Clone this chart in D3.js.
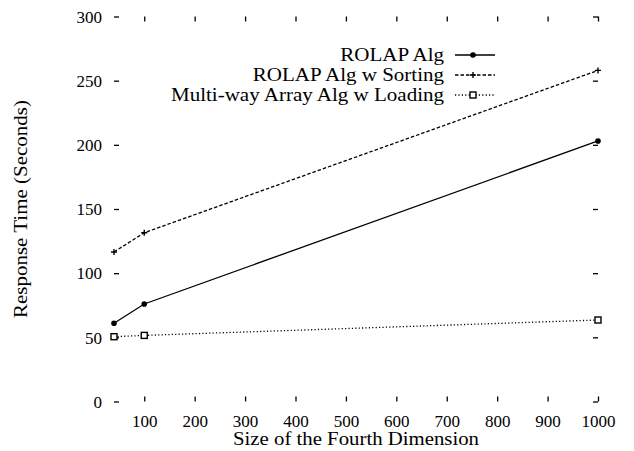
<!DOCTYPE html>
<html>
<head>
<meta charset="utf-8">
<script src="https://cdn.jsdelivr.net/npm/d3@7"></script>
<style>
  html, body { margin: 0; padding: 0; background: #fff; }
  svg { display: block; }
  text { font-family: "Liberation Serif", "DejaVu Serif", serif; fill: #000; }
</style>
</head>
<body>
<svg id="chart" width="634" height="451"></svg>
<script>
// ---- data ----
const sizes = [40, 100, 1000];
const rolapAlg = [61, 76, 203];
const rolapAlgSorting = [116.5, 131.5, 258];
const multiwayLoading = [50.5, 51.5, 63.5];
const seriesNames = ["ROLAP Alg", "ROLAP Alg w Sorting", "Multi-way Array Alg w Loading"];
const xTickValues = [100, 200, 300, 400, 500, 600, 700, 800, 900, 1000];
const yTickValues = [0, 50, 100, 150, 200, 250, 300];
const xTitle = "Size of the Fourth Dimension";
const yTitle = "Response Time (Seconds)";

(function () {
// ---- layout ----
const svg = d3.select("#chart");
const pLeft = 114, pRight = 598, pTop = 16.5, pBottom = 401.5;
const x = d3.scaleLinear().domain([40, 1000]).range([pLeft, pRight]);
const y = d3.scaleLinear().domain([0, 300]).range([pBottom, pTop]);
const tickLen = 5;

const series = [
  { name: seriesNames[0], values: rolapAlg, dash: null, marker: "dot" },
  { name: seriesNames[1], values: rolapAlgSorting, dash: "3.5,2", marker: "plus" },
  { name: seriesNames[2], values: multiwayLoading, dash: "1.2,2.2", marker: "square" }
];

// ---- axes (ticks only, no border lines) ----
const axisStyle = g => {
  g.select(".domain").remove();
  g.selectAll(".tick line").attr("stroke", "#000").attr("stroke-width", 1.3);
};
svg.append("g").attr("transform", `translate(0,${pBottom})`)
  .call(d3.axisBottom(x).tickValues(xTickValues).tickSize(-tickLen).tickPadding(13).tickFormat(d3.format("d")))
  .call(axisStyle)
  .selectAll("text").attr("font-size", 17).attr("font-family", "Liberation Serif");
svg.append("g").attr("transform", `translate(0,${pTop})`)
  .call(d3.axisTop(x).tickValues(xTickValues).tickSize(-tickLen).tickFormat(""))
  .call(axisStyle);
svg.append("g").attr("transform", `translate(${pLeft},0)`)
  .call(d3.axisLeft(y).tickValues(yTickValues).tickSize(-tickLen).tickPadding(12).tickFormat(d3.format("d")))
  .call(axisStyle)
  .selectAll("text").attr("font-size", 17).attr("font-family", "Liberation Serif").attr("dy", "0.34em");
svg.append("g").attr("transform", `translate(${pRight},0)`)
  .call(d3.axisRight(y).tickValues(yTickValues).tickSize(-tickLen).tickFormat(""))
  .call(axisStyle);

// ---- titles ----
svg.append("text").attr("x", (pLeft + pRight) / 2).attr("y", 445)
  .attr("text-anchor", "middle").attr("font-size", 18)
  .attr("textLength", 246).attr("lengthAdjust", "spacingAndGlyphs")
  .text(xTitle);
svg.append("text").attr("transform", `translate(27,${(pTop + pBottom) / 2}) rotate(-90)`)
  .attr("text-anchor", "middle").attr("font-size", 18)
  .attr("textLength", 218).attr("lengthAdjust", "spacingAndGlyphs")
  .text(yTitle);

// ---- lines ----
const line = d3.line().x((d, i) => x(sizes[i])).y(d => y(d));
function drawMarker(g, type, cx, cy) {
  if (type === "dot") {
    g.append("circle").attr("cx", cx).attr("cy", cy).attr("r", 2.8).attr("fill", "#000");
  } else if (type === "plus") {
    g.append("path").attr("d", `M${cx - 3},${cy}H${cx + 3}M${cx},${cy - 3}V${cy + 3}`)
      .attr("stroke", "#000").attr("stroke-width", 1.4).attr("fill", "none");
  } else {
    g.append("rect").attr("x", cx - 3).attr("y", cy - 3).attr("width", 6).attr("height", 6)
      .attr("fill", "#fff").attr("stroke", "#000").attr("stroke-width", 1.4);
  }
}
series.forEach(s => {
  const g = svg.append("g");
  g.append("path").datum(s.values).attr("d", line)
    .attr("fill", "none").attr("stroke", "#000").attr("stroke-width", 1.3)
    .attr("stroke-dasharray", s.dash);
  s.values.forEach((v, i) => drawMarker(g, s.marker, x(sizes[i]), y(v)));
});

// ---- legend ----
const legendY = [55, 75, 95];
const legendTextEnd = 444;
const lg = svg.append("g");
const labels = series.map((s, i) => lg.append("text")
  .attr("x", legendTextEnd).attr("y", legendY[i] + 6)
  .attr("text-anchor", "end").attr("font-size", 18).text(s.name));
const natural = labels[2].node().getComputedTextLength();
const k = 273 / natural;
labels.forEach(t => {
  const w = t.node().getComputedTextLength();
  t.attr("textLength", w * k).attr("lengthAdjust", "spacingAndGlyphs");
});
series.forEach((s, i) => {
  lg.append("line").attr("x1", 455).attr("x2", 495).attr("y1", legendY[i]).attr("y2", legendY[i])
    .attr("stroke", "#000").attr("stroke-width", 1.3).attr("stroke-dasharray", s.dash);
  drawMarker(lg, s.marker, 473, legendY[i]);
});
})();
</script>
</body>
</html>
